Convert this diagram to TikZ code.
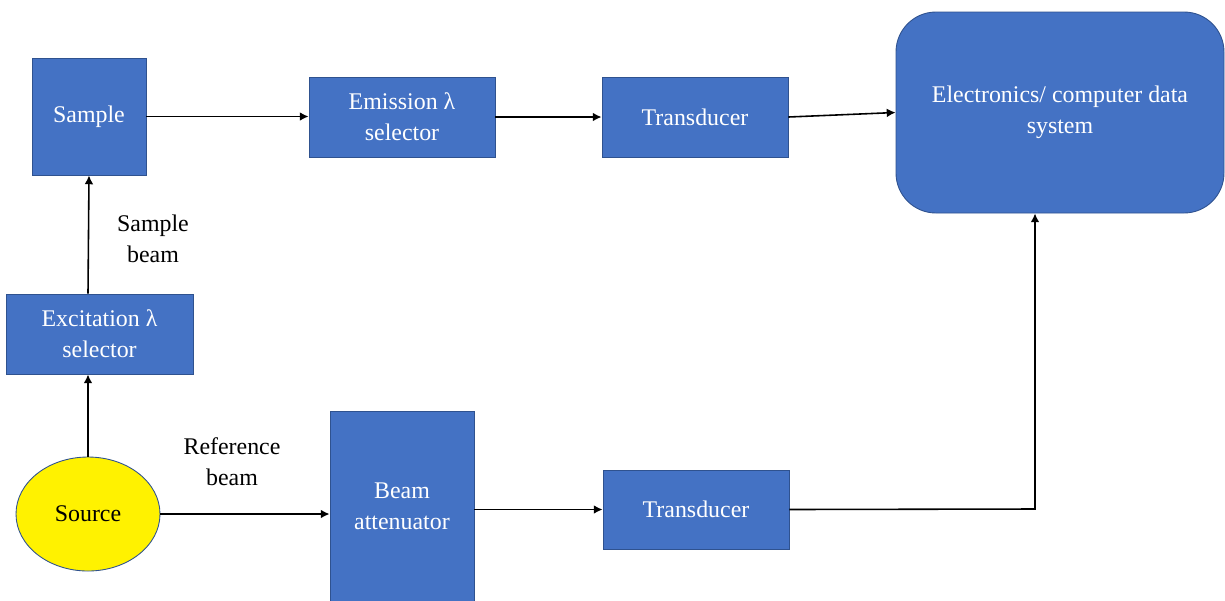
\documentclass[tikz,border=0pt]{standalone}
\usepackage{fontspec}
\setmainfont{Liberation Serif}
\newfontfamily\timesf{Liberation Serif}
\usetikzlibrary{shapes.geometric,arrows.meta}
\definecolor{boxblue}{HTML}{4472C4}
\definecolor{boxedge}{HTML}{2F528F}
\begin{document}
\begin{tikzpicture}[x=0.02cm,y=-0.02cm,
  blk/.style={draw=boxedge,line width=0.5pt,fill=boxblue,text=white,align=center,inner sep=0pt,
    font=\timesf\fontsize{13.6}{17.6}\selectfont},
  conn/.style={line width=0.9pt,-{Latex[length=5pt,width=5pt]}},
  lbl/.style={align=center,font=\timesf\fontsize{13.6}{17.6}\selectfont}]
\useasboundingbox (0,0) rectangle (1225,600);
\node[blk,minimum width=114*0.02cm,minimum height=117*0.02cm] (sample) at (89,116.5) {Sample};
\node[blk,minimum width=186*0.02cm,minimum height=80*0.02cm] (emis) at (402,117) {Emission λ\\selector};
\node[blk,minimum width=186*0.02cm,minimum height=80*0.02cm] (trans1) at (695,117) {Transducer};
\node[blk,rounded corners=0.8cm,minimum width=328*0.02cm,minimum height=201*0.02cm] (elec) at (1060,112.5) {Electronics/ computer data\\system};
\node[blk,minimum width=187*0.02cm,minimum height=80*0.02cm] (exc) at (99.5,334) {Excitation λ\\selector};
\node[ellipse,draw=boxedge,line width=0.5pt,fill=yellow,minimum width=144*0.02cm,minimum height=114*0.02cm,inner sep=0pt,
  font=\timesf\fontsize{13.6}{17.6}\selectfont] (src) at (88,514) {Source};
\node[blk,minimum width=144*0.02cm,minimum height=190*0.02cm] (att) at (402,506) {Beam\\attenuator};
\node[blk,minimum width=186*0.02cm,minimum height=79*0.02cm] (trans2) at (696,509.5) {Transducer};
\coordinate (corner) at (1035,509);
\node[lbl] (lsb) at (153,239) {Sample\\beam};
\node[lbl] (lrb) at (232,462) {Reference\\beam};
\draw[conn] (src.north) -- (src.north |- exc.south);
\draw[conn] (exc.north -| src.north) -- (sample.south);
\draw[conn] (sample.east) -- (emis.west |- sample.east);
\draw[conn] (emis.east) -- (trans1.west);
\draw[conn] (trans1.east) -- (elec.west);
\draw[conn] (src.east) -- (att.west |- src.east);
\draw[conn] (att.east |- trans2.west) -- (trans2.west);
\draw[conn] (trans2.east) -- (corner) -- (corner |- elec.south);
\end{tikzpicture}
\end{document}
